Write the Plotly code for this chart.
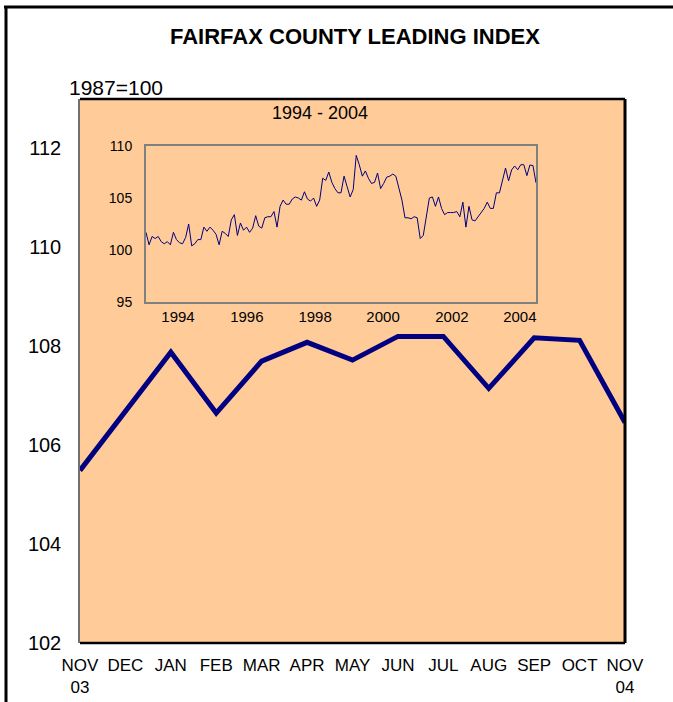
import plotly.graph_objects as go

# ---------------- data ----------------
month_labels = ["NOV<br>03", "DEC", "JAN", "FEB", "MAR", "APR", "MAY",
                "JUN", "JUL", "AUG", "SEP", "OCT", "NOV<br>04"]
main_values = [105.49, 106.70, 107.88, 106.65, 107.70, 108.08, 107.72,
               108.20, 108.20, 107.15, 108.17, 108.12, 106.46]

inset_1993_1997 = [101.7, 100.5, 101.3, 101.1, 101.3, 100.8, 100.6, 100.8, 100.5, 101.7,
                   101.0, 100.7, 100.6, 101.2, 102.5, 100.4, 100.6, 101.0, 101.0, 102.2,
                   101.8, 102.2, 101.9, 101.5, 100.5, 101.8, 101.6, 101.3, 102.9, 103.4,
                   101.4, 102.6, 101.9, 102.2, 101.7, 102.1, 103.3, 102.3, 102.1, 103.1,
                   103.2, 103.2, 103.7, 102.2]
inset_1997_2000 = [104.2, 104.8, 104.4, 104.4, 104.9, 105.1, 105.0, 104.8, 105.6, 104.9,
                   104.7, 105.0, 104.2, 104.8, 106.9, 106.7, 107.5, 106.5, 105.9, 105.5,
                   105.5, 107.1, 106.1, 105.1, 105.8, 109.1, 108.2, 107.1, 107.6, 106.9,
                   106.4, 106.5, 107.4, 105.9, 106.4, 107.0, 107.1, 107.3, 107.1, 105.9,
                   104.8]
inset_2000_2003 = [103.1, 103.1, 103.0, 103.2, 103.1, 101.1, 101.4, 103.2, 105.0, 105.1,
                   104.2, 105.1, 104.0, 103.4, 103.6, 103.6, 103.6, 103.7, 103.2, 104.6,
                   102.2, 104.2, 102.9, 102.8, 103.2, 103.7, 104.0, 104.6, 104.0, 104.0,
                   105.5]
inset_values = inset_1993_1997 + inset_1997_2000 + inset_2000_2003 + main_values
inset_index = list(range(len(inset_values)))

inset_year_labels = ["1994", "1996", "1998", "2000", "2002", "2004"]
inset_year_pos = [10.5, 33.1, 55.5, 77.8, 100.4, 122.7]

main_y_ticks = [102, 104, 106, 108, 110, 112]
inset_y_ticks = [95, 100, 105, 110]

# ---------------- figure ----------------
W, H = 673, 702
FONT = "Arial, Liberation Sans, sans-serif"
NAVY = "#000080"
PEACH = "#FFCC99"


def px(x):
    return x / W


def py(y):
    return 1 - y / H


fig = go.Figure()

fig.add_trace(go.Scatter(
    x=month_labels, y=main_values, mode="lines",
    line=dict(color=NAVY, width=5), xaxis="x", yaxis="y",
    hoverinfo="skip", showlegend=False))

fig.add_trace(go.Scatter(
    x=inset_index, y=inset_values, mode="lines",
    line=dict(color=NAVY, width=1), xaxis="x2", yaxis="y2",
    hoverinfo="skip", showlegend=False))

fig.update_layout(
    template="none",
    width=W, height=H,
    margin=dict(l=0, r=0, t=0, b=0, pad=0),
    paper_bgcolor="white",
    plot_bgcolor=PEACH,
    font=dict(family=FONT, color="black"),
    xaxis=dict(domain=[px(80), px(625)], anchor="y", type="category",
               range=[0, 12], showgrid=False, zeroline=False, ticks="",
               tickfont=dict(size=17), showline=False, fixedrange=True,
               automargin=False, ticklabelstandoff=10),
    yaxis=dict(domain=[py(643), py(99)], anchor="x", range=[102, 113],
               tickvals=main_y_ticks, showgrid=False, zeroline=False,
               ticks="", tickfont=dict(size=20), showline=True,
               linecolor="#707070", linewidth=1.5, ticklabelstandoff=13,
               automargin=False),
    xaxis2=dict(domain=[px(146), px(536)], anchor="y2",
                range=[0, len(inset_values) - 1], tickvals=inset_year_pos,
                ticktext=inset_year_labels, showgrid=False, zeroline=False,
                ticks="", tickfont=dict(size=15), showline=True, mirror=True,
                linecolor="#808080", linewidth=2, automargin=False),
    yaxis2=dict(domain=[py(302), py(146)], anchor="x2", range=[95, 110],
                tickvals=inset_y_ticks, showgrid=False, zeroline=False,
                ticks="", tickfont=dict(size=14), showline=True, mirror=True,
                linecolor="#808080", linewidth=2, ticklabelstandoff=9,
                automargin=False),
)

shapes = [
    # main plot frame (top, right, bottom)
    dict(type="line", xref="x domain", yref="y domain", x0=0, x1=1, y0=1, y1=1,
         line=dict(color="black", width=2.5)),
    dict(type="line", xref="x domain", yref="y domain", x0=1, x1=1, y0=0, y1=1,
         line=dict(color="black", width=3)),
    dict(type="line", xref="x domain", yref="y domain", x0=0, x1=1, y0=0, y1=0,
         line=dict(color="black", width=2.5)),
    # outer frame (top, left)
    dict(type="line", xref="paper", yref="paper", x0=px(4), x1=1, y0=py(7), y1=py(7),
         line=dict(color="black", width=3)),
    dict(type="line", xref="paper", yref="paper", x0=px(6), x1=px(6), y0=0, y1=py(7),
         line=dict(color="black", width=3)),
]
fig.update_layout(shapes=shapes)

fig.add_annotation(text="<b>FAIRFAX COUNTY LEADING INDEX</b>", xref="paper", yref="paper",
                   x=px(355), y=py(37), showarrow=False, font=dict(size=22),
                   xanchor="center", yanchor="middle")
fig.add_annotation(text="1987=100", xref="paper", yref="paper",
                   x=px(116), y=py(87), showarrow=False, font=dict(size=21),
                   xanchor="center", yanchor="middle")
fig.add_annotation(text="1994 - 2004", xref="paper", yref="paper",
                   x=px(320), y=py(113), showarrow=False, font=dict(size=18),
                   xanchor="center", yanchor="middle")

fig.write_html(
    "out.html",
    config={"displayModeBar": False},
    post_script="document.body.style.margin='0';document.body.style.overflow='hidden';",
)
